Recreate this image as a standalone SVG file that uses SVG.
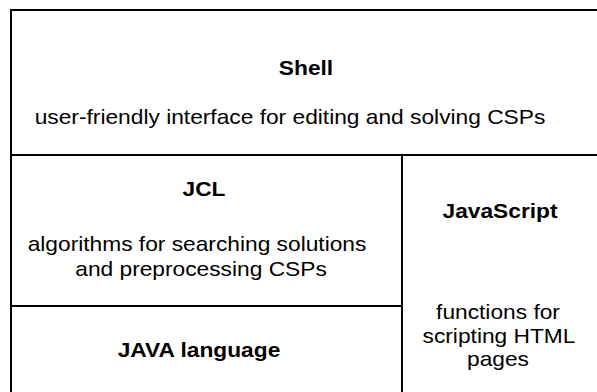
<svg xmlns="http://www.w3.org/2000/svg" width="597" height="392" viewBox="0 0 597 392">
<style>
.cell{fill:none;stroke:#000;stroke-width:2}
.t{font-family:"Liberation Sans",Arial,sans-serif;font-size:20.5px;fill:#000;text-anchor:middle}
.b{font-weight:bold}
</style>
<rect x="0" y="0" width="597" height="392" fill="#fff"/>
<g id="shell">
<rect class="cell" x="11" y="10" width="600" height="145"/>
<text class="t b" transform="translate(306 75) scale(1.11 1)">Shell</text>
<text class="t" transform="translate(290 124) scale(1.11 1)">user-friendly interface for editing and solving CSPs</text>
</g>
<g id="jcl">
<rect class="cell" x="11" y="155" width="391" height="151"/>
<text class="t b" transform="translate(204 196) scale(1.11 1)">JCL</text>
<text class="t" transform="translate(197 251) scale(1.11 1)">algorithms for searching solutions</text>
<text class="t" transform="translate(201 276) scale(1.11 1)">and preprocessing CSPs</text>
</g>
<g id="java">
<rect class="cell" x="11" y="306" width="391" height="100"/>
<text class="t b" transform="translate(199 357) scale(1.11 1)">JAVA language</text>
</g>
<g id="javascript">
<rect class="cell" x="402" y="155" width="200" height="250"/>
<text class="t b" transform="translate(500 218) scale(1.11 1)">JavaScript</text>
<text class="t" transform="translate(498 319) scale(1.11 1)">functions for</text>
<text class="t" transform="translate(499 343) scale(1.11 1)">scripting HTML</text>
<text class="t" transform="translate(498 366) scale(1.11 1)">pages</text>
</g>
<g id="connectors"></g>
</svg>
